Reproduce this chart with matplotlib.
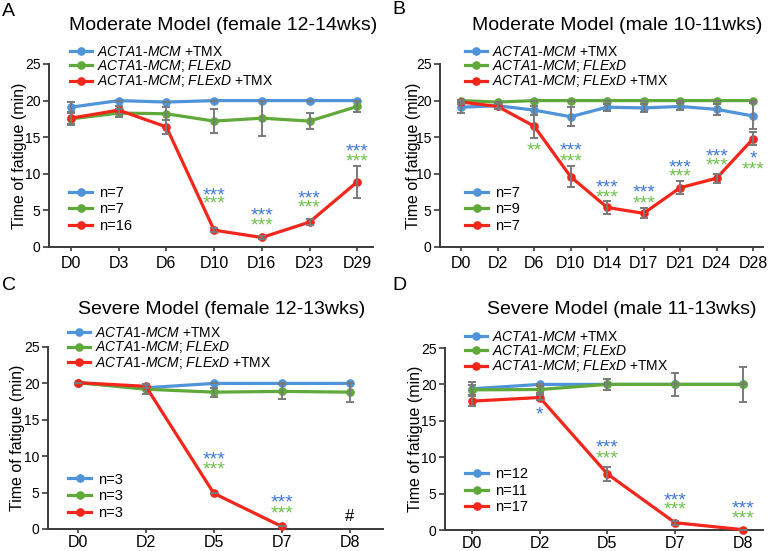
import matplotlib
matplotlib.use("Agg")
import matplotlib.pyplot as plt

plt.rcParams['font.family'] = ['Liberation Sans', 'DejaVu Sans']
plt.rcParams['mathtext.fontset'] = 'custom'
plt.rcParams['mathtext.it'] = 'Liberation Sans:italic'
plt.rcParams['mathtext.rm'] = 'Liberation Sans'

# ---------------- data ----------------
labels_groups = [r"$\mathit{ACTA1}$-$\mathit{MCM}$ +TMX",
                 r"$\mathit{ACTA1}$-$\mathit{MCM}$; $\mathit{FLExD}$",
                 r"$\mathit{ACTA1}$-$\mathit{MCM}$; $\mathit{FLExD}$ +TMX"]

# Panel A
A_days = ["D0", "D3", "D6", "D10", "D16", "D23", "D29"]
A_blue = [19.1, 20.0, 19.8, 20.0, 20.0, 20.0, 20.0]
A_blue_err = [0.7, 0, 0, 0, 0, 0, 0]
A_green = [17.5, 18.3, 18.2, 17.2, 17.6, 17.2, 19.2]
A_green_err = [0.8, 0.5, 0.9, 1.6, 2.4, 1.1, 0.7]
A_red = [17.6, 18.7, 16.4, 2.3, 1.3, 3.4, 8.9]
A_red_err = [0.8, 0.5, 0.9, 0.3, 0.2, 0.4, 2.2]
A_n = ["n=7", "n=7", "n=16"]
A_sig_idx = [3, 4, 5, 6]
A_sig_blue = ["***", "***", "***", "***"]
A_sig_blue_y = [7.5, 4.75, 7.1, 13.5]
A_sig_green = ["***", "***", "***", "***"]
A_sig_green_y = [6.4, 3.4, 5.9, 12.25]

# Panel B
B_days = ["D0", "D2", "D6", "D10", "D14", "D17", "D21", "D24", "D28"]
B_blue = [19.1, 19.3, 18.7, 17.8, 19.1, 19.0, 19.2, 18.8, 17.9]
B_blue_err = [0.75, 0.3, 0.6, 1.3, 0.5, 0.6, 0.5, 0.8, 1.8]
B_green = [20.0, 19.8, 20.0, 20.0, 20.0, 20.0, 20.0, 20.0, 20.0]
B_green_err = [0, 0, 0, 0, 0, 0, 0, 0, 0]
B_red = [19.8, 19.2, 16.5, 9.6, 5.4, 4.6, 8.1, 9.4, 14.8]
B_red_err = [0.3, 0.3, 1.6, 1.4, 0.9, 0.7, 0.9, 0.6, 0.9]
B_n = ["n=7", "n=9", "n=7"]
B_sig_idx = [2, 3, 4, 5, 6, 7, 8]
B_sig_blue = ["", "***", "***", "***", "***", "***", "*"]
B_sig_blue_y = [0, 13.7, 8.7, 7.9, 11.4, 12.9, 12.6]
B_sig_green = ["**", "***", "***", "***", "***", "***", "***"]
B_sig_green_y = [13.7, 12.25, 7.3, 6.5, 10.2, 11.6, 11.1]

# Panel C
C_days = ["D0", "D2", "D5", "D7", "D8"]
C_blue = [20.1, 19.4, 20.0, 20.0, 20.0]
C_blue_err = [0, 0, 0, 0, 0]
C_green = [20.1, 19.2, 18.8, 18.9, 18.8]
C_green_err = [0, 0.6, 0.6, 1.0, 1.3]
C_red = [20.1, 19.6, 4.9, 0.35]
C_red_err = [0, 0.3, 0, 0]
C_n = ["n=3", "n=3", "n=3"]
C_sig_idx = [2, 3]
C_sig_blue = ["***", "***"]
C_sig_blue_y = [10.1, 4.2]
C_sig_green = ["***", "***"]
C_sig_green_y = [8.7, 2.6]
C_hash_idx = 4
C_hash_y = 1.7

# Panel D
D_days = ["D0", "D2", "D5", "D7", "D8"]
D_blue = [19.4, 20.0, 20.0, 20.0, 20.0]
D_blue_err = [0.9, 0, 0, 0, 0]
D_green = [19.25, 19.3, 20.0, 20.0, 20.0]
D_green_err = [0.7, 0.5, 0.8, 1.6, 2.4]
D_red = [17.7, 18.2, 7.7, 1.0, 0.05]
D_red_err = [0.7, 0.3, 0.95, 0.3, 0]
D_n = ["n=12", "n=11", "n=17"]
D_sig_idx = [1, 2, 3, 4]
D_sig_blue = ["*", "***", "***", "***"]
D_sig_blue_y = [16.4, 11.8, 4.6, 3.4]
D_sig_green = ["", "***", "***", "***"]
D_sig_green_y = [0, 10.3, 3.3, 2.05]

titles = ["Moderate Model (female 12-14wks)", "Moderate Model (male 10-11wks)",
          "Severe Model (female 12-13wks)", "Severe Model (male 11-13wks)"]
panel_letters = ["A", "B", "C", "D"]

# ---------------- style ----------------
C_BLUE = "#4f94d8"
C_GREEN = "#5fa83a"
C_RED = "#f2261a"
C_ERR = "#7a7a7a"
C_STAR_BLUE = "#3f78d6"
C_STAR_GREEN = "#6cc04c"
SPINE = "#3a3a3a"

W, H = 778, 551
fig = plt.figure(figsize=(W / 100, H / 100), dpi=100)


def px_axes(l, r, t, b):
    return fig.add_axes([l / W, 1 - b / H, (r - l) / W, (b - t) / H])


def draw_panel(ax, days, series, errs, nlabels, sig_idx, sig_b, sig_by, sig_g, sig_gy,
               xlim, leg1_anchor, leg2_anchor, ylab_x, xpad, order=(0, 1, 2)):
    colors = [C_BLUE, C_GREEN, C_RED]
    handles = [None, None, None]
    for k in order:
        y = series[k]
        x = list(range(len(y)))
        h, = ax.plot(x, y, color=colors[k], lw=2.3, marker='o', ms=5.2,
                     zorder=3 + k * 0.1, clip_on=False)
        handles[k] = h
        ax.errorbar(x, y, yerr=errs[k], fmt='none', ecolor=C_ERR, elinewidth=1.4,
                    capsize=3, capthick=1.4, zorder=4, clip_on=False)
    ax.set_xlim(*xlim)
    ax.set_ylim(0, 25)
    ax.set_yticks([0, 5, 10, 15, 20, 25])
    ax.set_xticks(range(len(days)))
    ax.set_xticklabels(days, fontsize=11.5)
    ax.tick_params(axis='y', labelsize=10, direction='out', length=4, width=1.2,
                   color=SPINE, pad=2)
    ax.tick_params(axis='x', direction='out', length=3, width=1.2, color=SPINE, pad=xpad)
    for s in ['top', 'right']:
        ax.spines[s].set_visible(False)
    for s in ['left', 'bottom']:
        ax.spines[s].set_color(SPINE)
        ax.spines[s].set_linewidth(1.4)
    ax.set_ylabel("Time of fatigue (min)", fontsize=11.5)
    ax.yaxis.set_label_coords(ylab_x, 0.5)

    for i, sb, yb, sg, yg in zip(sig_idx, sig_b, sig_by, sig_g, sig_gy):
        if sb:
            ax.annotate(sb, (i, yb), xytext=(0, -3), textcoords='offset points',
                        color=C_STAR_BLUE, fontsize=14, ha='center', va='center')
        if sg:
            ax.annotate(sg, (i, yg), xytext=(0, -3), textcoords='offset points',
                        color=C_STAR_GREEN, fontsize=14, ha='center', va='center')

    leg1 = ax.legend(handles, labels_groups, loc='upper left', bbox_to_anchor=leg1_anchor,
                     frameon=False, fontsize=10, borderpad=0, borderaxespad=0,
                     handlelength=1.6, handletextpad=0.35, labelspacing=-0.05)
    ax.add_artist(leg1)
    ax.legend(handles, nlabels, loc='upper left', bbox_to_anchor=leg2_anchor,
              frameon=False, fontsize=10.5, borderpad=0, borderaxespad=0,
              handlelength=1.6, handletextpad=0.45, labelspacing=0.18)


axA = px_axes(49, 373, 64, 247)
draw_panel(axA, A_days, [A_blue, A_green, A_red], [A_blue_err, A_green_err, A_red_err],
           A_n, A_sig_idx, A_sig_blue, A_sig_blue_y, A_sig_green, A_sig_green_y,
           (-0.46, 6.33), (0.065, 1.105), (0.062, 0.335), -0.068, 3.5, order=(1, 0, 2))

axB = px_axes(440, 763, 64, 247)
draw_panel(axB, B_days, [B_blue, B_green, B_red], [B_blue_err, B_green_err, B_red_err],
           B_n, B_sig_idx, B_sig_blue, B_sig_blue_y, B_sig_green, B_sig_green_y,
           (-0.58, 8.27), (0.077, 1.105), (0.077, 0.335), -0.06, 3.5, order=(1, 0, 2))

axC = px_axes(48, 383, 347, 529)
draw_panel(axC, C_days, [C_blue, C_green, C_red], [C_blue_err, C_green_err, C_red_err],
           C_n, C_sig_idx, C_sig_blue, C_sig_blue_y, C_sig_green, C_sig_green_y,
           (-0.44, 4.49), (0.06, 1.115), (0.06, 0.31), -0.07, 1.5, order=(0, 1, 2))
axC.text(C_hash_idx, C_hash_y, "#", fontsize=12, ha='center', va='center', color='black')

axD = px_axes(445, 763, 348, 530)
draw_panel(axD, D_days, [D_blue, D_green, D_red], [D_blue_err, D_green_err, D_red_err],
           D_n, D_sig_idx, D_sig_blue, D_sig_blue_y, D_sig_green, D_sig_green_y,
           (-0.40, 4.30), (0.063, 1.10), (0.063, 0.345), -0.07, 1.5, order=(0, 1, 2))

# titles
title_pos = [(223, 25), (617, 25), (222, 310), (622, 310)]
for t, (x, y) in zip(titles, title_pos):
    fig.text(x / W, 1 - y / H, t, fontsize=14, ha='center', va='center')

letter_pos = [(2, 11), (392, 10), (2, 285), (392, 285)]
for L, (x, y) in zip(panel_letters, letter_pos):
    fig.text(x / W, 1 - y / H, L, fontsize=14, ha='left', va='center')

fig.savefig("out.png", dpi=100)
